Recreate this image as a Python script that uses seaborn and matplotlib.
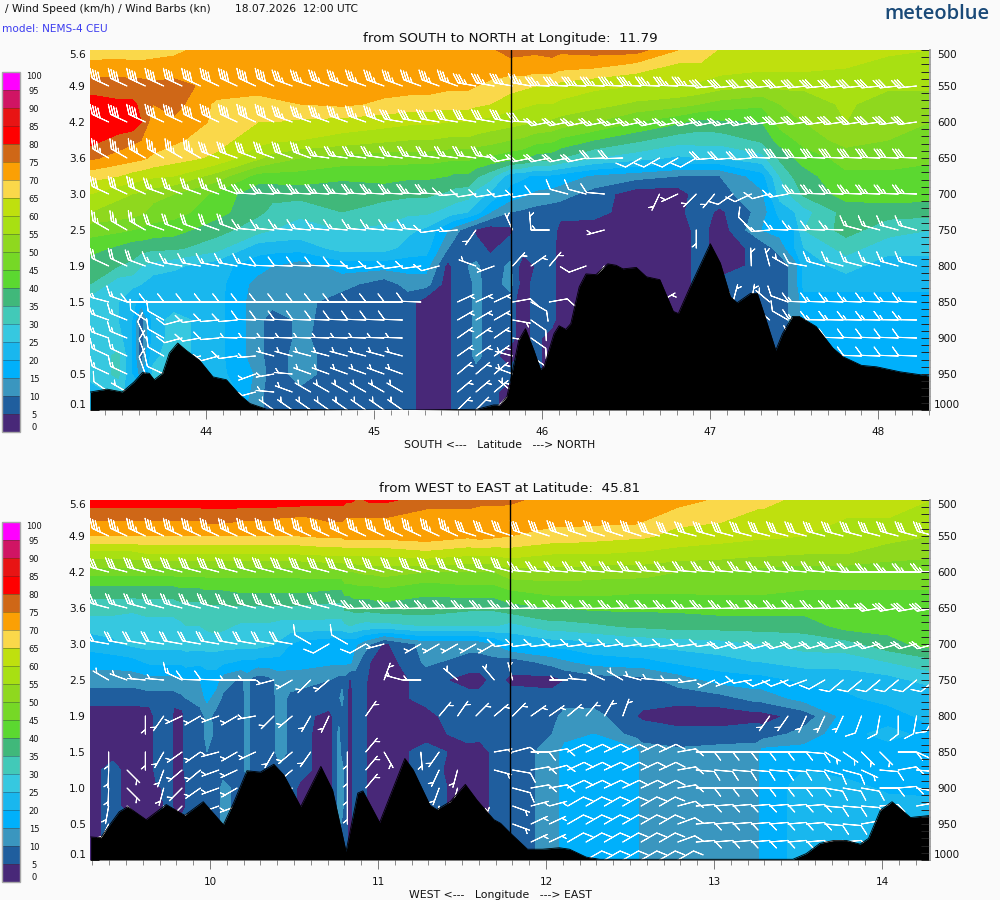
import numpy as np
import matplotlib
matplotlib.use("Agg")
import matplotlib.pyplot as plt
from matplotlib.ticker import MultipleLocator
import seaborn as sns

# ---- common axes / legend values
wind_levels = list(range(0, 105, 5))
wind_colors = ["#482878", "#1f5e9e", "#3a96bf", "#00b0fb", "#19b7ee", "#36c8e0", "#42c9b8",
               "#40b87a", "#5bd830", "#76d826", "#8fd81e", "#a8e012", "#bfe00e", "#fad84a",
               "#fba004", "#cf6717", "#ff0000", "#e81414", "#d01464", "#ff00ff"]
pressure_rows = list(range(500, 1025, 25))
pressure_ticks = list(range(500, 1050, 50))
height_labels = ["5.6", "4.9", "4.2", "3.6", "3.0", "2.5", "1.9", "1.5", "1.0", "0.5", "0.1"]
barb_rows = [550, 600, 650, 700, 750, 800, 850, 875, 900, 925, 950, 975, 1000]

# ---- upper panel: wind speed (km/h) per pressure row
top_lat = list(np.round(np.arange(21) * 0.25 + 43.308, 3))
top_500 = [67,67,69,72,72,72,72,72,72,74,77,77,77,77,70,64,62,62,61,61,60]
top_525 = [72,72,72,72,72,72,72,72,72,72,72,72,70,67,63,62,61,61,60,58,58]
top_550 = [78,77,77,73,72,72,72,72,72,71,67,65,61,60,60,57,55,56,56,56,56]
top_575 = [82,81,77,69,68,70,71,69,68,67,62,60,57,54,52,48,46,52,56,52,52]
top_600 = [84,84,74,69,65,64,63,62,61,60,57,54,50,45,41,39,40,50,55,52,50]
top_625 = [82,76,71,67,62,60,58,56,55,54,50,46,40,36,32,32,36,47,52,50,48]
top_650 = [76,72,67,64,56,50,48,47,47,46,42,37,30,27,24,25,28,42,47,47,46]
top_675 = [67,63,60,53,43,43,41,42,41,39,22,19,14,12,10,10,18,38,44,44,43]
top_700 = [60,55,50,44,36,37,37,37,36,32,18,13,8,2,2,8,14,36,42,43,42]
top_725 = [55,52,47,42,36,31,35,32,31,25,10,7,7,2,4,4,12,28,37,37,37]
top_750 = [47,45,42,37,32,28,30,29,24,7,4,8,2,2,2,2,15,30,37,32,30]
top_775 = [42,37,36,32,22,22,27,27,22,7,7,7,2,2,2,2,7,25,32,27,27]
top_800 = [37,34,26,22,17,12,17,17,17,10,11,7,2,2,2,2,7,22,27,22,22]
top_825 = [35,26,22,22,13,12,12,7,12,7,12,7,2,2,2,7,7,22,22,22,22]
top_850 = [27,22,22,22,12,12,7,7,2,7,7,7,2,2,2,7,7,17,17,17,17]
top_875 = [27,20,27,22,12,11,8,7,2,7,7,7,2,2,2,7,7,17,17,17,17]
top_900 = [25,20,27,22,12,11,7,7,2,7,7,2,2,2,2,7,7,17,17,17,17]
top_925 = [27,20,27,22,12,12,7,7,2,7,2,2,2,2,2,7,7,17,17,17,17]
top_950 = [27,20,27,22,14,12,7,7,2,7,7,2,2,2,2,7,7,17,17,17,17]
top_975 = [22,22,27,27,12,9,7,7,2,7,2,2,2,2,2,2,2,17,17,17,17]
top_1000 = [22,27,27,22,12,7,7,7,2,7,2,2,2,2,2,2,2,17,17,17,17]
# extra upper-panel columns for narrow features: (latitude, speeds top to bottom)
top_c43475 = (43.475, [67,73,77,81,84,78,73,65,56,53,46,39,35,27,25,25,27,31,31,27,27])
top_c43612 = (43.612, [67,72,77,79,80,75,71,62,54,51,44,37,30,25,17,7,7,7,12,22,27])
top_c43683 = (43.683, [68,72,76,75,72,73,69,61,52,48,43,36,28,22,22,22,22,24,26,27,27])
top_c44391 = (44.391, [72,72,72,69,65,61,53,43,36,34,30,22,15,13,12,7,7,7,7,7,7])
top_c45201 = (45.201, [72,72,72,68,61,55,47,41,36,31,26,23,17,12,7,7,7,7,7,7,7])
top_c45439 = (45.439, [72,72,71,67,60,54,46,40,34,28,15,10,3,2,2,2,2,2,2,2,2])
top_c45475 = (45.475, [72,72,71,67,60,54,46,39,33,27,12,8,7,7,7,7,7,7,7,7,7])
top_c45606 = (45.606, [73,72,70,66,59,53,45,36,28,22,4,7,11,12,12,12,12,12,7,7,7])
top_c45689 = (45.689, [74,72,69,65,58,52,44,32,24,15,2,4,7,7,7,7,7,7,7,7,7])
top_c45885 = (45.885, [76,73,66,61,56,49,41,21,16,9,7,7,2,2,2,2,2,7,7,7,7])
top_c45957 = (45.957, [76,72,65,60,55,47,38,19,14,8,7,7,5,7,7,7,7,7,7,7,7])
top_c46106 = (46.106, [76,71,63,59,53,44,35,18,12,7,3,2,2,2,2,2,2,2,2,2,2])
top_c46939 = (46.939, [70,63,59,50,38,32,25,10,8,7,7,7,7,7,7,7,7,7,7,7,7])
top_c47415 = (47.415, [62,61,56,50,47,42,36,30,27,22,17,12,7,7,7,7,7,7,7,7,7])
top_c47504 = (47.504, [62,61,56,52,49,45,40,36,32,25,20,20,12,12,12,12,12,17,17,17,17])

# ---- lower panel: wind speed (km/h) per pressure row
bot_lon = list(np.round(np.arange(21) * 0.25 + 9.286, 3))
bot_500 = [83,83,83,83,83,83,82,81,78,77,76,73,72,72,72,69,67,63,62,62,60]
bot_525 = [76,76,76,77,76,74,76,75,72,73,72,72,72,72,67,66,63,62,60,60,58]
bot_550 = [70,70,70,70,70,70,71,72,73,71,70,68,67,66,63,62,61,60,60,57,55]
bot_575 = [58,58,60,60,60,60,61,61,63,61,62,60,60,59,58,57,56,55,55,52,51]
bot_600 = [47,47,47,47,47,47,48,52,50,50,53,53,52,52,50,50,48,47,47,47,47]
bot_625 = [38,38,38,40,41,41,40,44,41,43,45,47,47,46,46,46,46,45,45,45,45]
bot_650 = [32,31,32,34,34,34,33,38,38,36,38,40,41,41,41,42,42,42,42,43,43]
bot_675 = [27,27,28,32,29,28,28,28,30,30,28,33,34,36,37,37,37,37,42,42,42]
bot_700 = [22,26,27,27,27,18,16,4,12,12,20,22,24,26,27,28,30,32,33,38,42]
bot_725 = [17,18,21,22,18,17,16,2,11,8,7,12,17,18,21,23,25,27,27,30,33]
bot_750 = [12,12,13,17,7,12,8,2,7,3,4,3,7,8,12,17,18,21,22,23,27]
bot_775 = [7,7,8,13,7,8,12,2,7,7,7,7,7,7,7,8,12,17,19,22,21]
bot_800 = [2,2,2,8,7,7,7,2,3,10,7,8,12,5,2,2,3,7,17,17,22]
bot_825 = [2,2,2,9,7,7,5,2,3,7,7,10,15,8,7,7,7,12,18,22,18]
bot_850 = [2,3,2,8,7,7,7,2,7,3,7,12,17,17,11,12,17,17,17,17,17]
bot_875 = [3,2,2,7,7,7,13,2,7,2,7,12,17,17,12,12,17,20,18,18,17]
bot_900 = [3,2,3,7,7,4,12,2,7,3,7,12,17,17,12,12,17,22,22,19,18]
bot_925 = [3,2,3,7,7,4,12,2,7,3,7,12,17,17,12,12,17,22,22,22,22]
bot_950 = [3,7,7,7,7,7,9,2,7,7,7,12,17,17,12,12,17,22,22,22,22]
bot_975 = [3,7,7,7,7,7,7,7,7,7,7,12,17,17,12,12,17,22,22,22,22]
bot_1000 = [3,7,7,7,7,7,7,7,7,7,7,12,17,17,12,12,17,22,22,22,22]
# extra lower-panel columns for narrow features: (longitude, speeds top to bottom)
bot_c09423 = (9.423, [83,76,70,58,47,38,32,27,24,17,12,7,2,2,3,7,7,7,7,7,7])
bot_c09643 = (9.643, [83,76,70,60,47,38,32,28,27,21,13,8,2,2,2,2,2,3,3,7,7])
bot_c09679 = (9.679, [83,76,70,60,47,38,32,28,27,21,13,8,7,7,7,7,4,3,7,7,7])
bot_c09771 = (9.771, [83,76,70,60,47,38,32,28,27,21,13,8,7,7,7,7,7,7,7,7,7])
bot_c09834 = (9.834, [83,76,70,60,47,39,33,29,27,21,14,9,3,3,3,3,3,3,7,7,7])
bot_c09857 = (9.857, [83,76,70,60,47,39,33,30,27,22,15,10,7,7,7,7,5,5,7,7,7])
bot_c09941 = (9.941, [83,76,70,60,47,39,33,30,27,21,15,13,7,7,7,7,7,7,7,7,7])
bot_c09982 = (9.982, [83,77,70,60,47,40,34,31,27,22,17,16,12,12,10,7,7,7,7,7,7])
bot_c10078 = (10.078, [83,77,70,60,47,40,34,31,27,21,12,9,7,7,7,7,12,12,12,7,7])
bot_c10185 = (10.185, [83,76,70,60,47,41,34,29,27,19,9,7,7,7,7,7,7,7,7,7,7])
bot_c10221 = (10.221, [83,76,70,60,47,41,34,29,27,19,12,12,12,12,12,12,7,7,7,7,7])
bot_c10256 = (10.256, [83,76,70,60,47,41,34,29,27,19,8,7,7,7,7,7,7,7,7,7,7])
bot_c10346 = (10.346, [83,76,70,60,47,41,34,29,26,18,8,7,7,7,7,7,7,7,7,7,7])
bot_c10417 = (10.417, [83,75,70,60,47,41,34,28,24,18,12,12,12,12,12,9,7,7,7,7,7])
bot_c10476 = (10.476, [83,75,70,60,47,41,34,28,20,17,12,9,9,9,9,7,7,7,7,7,7])
bot_c10709 = (10.709, [82,76,71,61,48,40,33,28,16,16,10,9,3,2,2,2,2,2,2,2,2])
bot_c10744 = (10.744, [82,76,71,61,48,40,33,28,16,16,9,9,7,7,7,7,7,7,7,7,7])
bot_c10768 = (10.768, [82,76,71,61,48,40,33,28,16,16,8,9,7,12,12,12,12,12,12,7,7])
bot_c10804 = (10.804, [81,75,72,61,50,42,36,29,16,16,8,7,7,7,7,7,7,7,7,7,7])
bot_c10834 = (10.834, [81,75,72,61,50,42,36,30,16,16,4,2,3,2,2,2,2,2,2,2,2])
bot_c10863 = (10.863, [80,75,72,61,50,43,37,29,16,12,8,7,7,7,7,7,7,7,7,7,7])
bot_c10917 = (10.917, [80,75,72,61,51,43,37,28,12,8,7,7,7,7,7,7,7,7,7,7,7])
bot_c10953 = (10.953, [81,75,72,61,51,43,37,28,10,5,3,2,2,2,2,2,2,2,2,2,2])
bot_c11607 = (11.607, [76,73,72,61,50,43,36,30,12,8,3,7,7,7,2,2,2,2,2,7,7])
bot_c11697 = (11.697, [76,73,71,61,50,43,36,30,15,8,7,7,7,7,7,7,7,7,7,7,7])
bot_c12113 = (12.113, [73,72,68,60,53,47,40,33,22,14,5,7,12,13,17,17,17,17,17,17,17])
bot_c12572 = (12.572, [72,71,66,59,52,46,41,36,26,18,8,7,4,8,12,12,12,12,12,12,12])
bot_c13256 = (13.256, [67,63,61,56,48,46,42,37,30,25,18,12,3,8,12,12,12,12,12,12,12])

# ---- terrain (surface pressure, hPa)
top_ground_lat = [43.31,43.41,43.50,43.57,43.62,43.66,43.69,43.74,43.78,43.83,43.88,43.96,44.04,44.12,44.20,44.26,44.36,45.00,45.25,45.61,45.71,
                  45.75,45.79,45.82,45.86,45.90,45.95,45.99,46.01,46.07,46.10,46.14,46.17,46.22,46.26,46.32,46.39,46.44,46.48,46.56,46.62,46.70,
                  46.78,46.81,46.88,47.00,47.06,47.12,47.16,47.24,47.28,47.32,47.39,47.43,47.49,47.53,47.63,47.73,47.79,47.90,47.99,48.13,48.31]
top_ground_p = [975,971,975,961,948,949,958,949,921,907,917,931,954,958,979,991,999,1000,1000,999,993,
                993,981,949,903,887,917,944,940,894,883,888,880,829,811,812,797,799,804,802,815,819,
                863,866,829,769,796,843,851,838,838,866,917,894,870,870,884,914,926,938,940,947,953]
bot_ground_lon = [9.29,9.35,9.41,9.46,9.51,9.62,9.74,9.85,9.96,10.02,10.08,10.14,10.22,10.30,10.38,10.44,10.54,10.66,10.73,10.81,10.88,10.91,11.01,
                  11.16,11.21,11.31,11.35,11.43,11.52,11.59,11.69,11.73,11.79,11.89,11.98,12.08,12.14,12.24,12.32,13.47,13.55,13.63,13.71,13.79,
                  13.87,13.92,13.99,14.06,14.17,14.29]
bot_ground_p = [968,969,949,933,926,944,923,938,919,935,951,921,876,878,867,882,926,870,903,988,907,904,948,
                859,875,924,930,919,895,917,944,949,963,985,985,983,985,996,999,999,991,977,973,973,
                978,970,931,919,941,938]

# ---- wind barbs, as runs of (count, direction deg, speed kn); None = no barb
N = None
top_barb_lat0, top_barb_dlat, top_barb_n = 43.419, 0.1093, 45
t550 = [(10,295,40),(10,290,35),(4,280,35),(9,272,35),(12,264,30)]
t600 = [(10,295,40),(6,290,35),(7,280,30),(1,272,30),(12,258,25),(9,262,30)]
t650 = [(6,300,35),(6,290,30),(10,278,25),(5,258,20),(2,268,20),(4,240,10),(3,265,20),(9,272,28)]
t700 = [(3,295,30),(5,290,25),(11,273,25),(1,265,15),(3,261,12),(1,260,10),(1,270,10),(2,285,10),(1,275,10),(2,N,N),(1,205,5),(1,245,5),(1,225,5),(1,220,5),(1,235,8),(1,245,8),(1,255,10),(1,260,15),(7,272,25)]
t750 = [(3,300,25),(5,290,20),(10,275,15),(1,262,10),(1,265,5),(1,215,5),(1,N,N),(1,335,5),(1,355,5),(1,270,5),(2,N,N),(1,255,5),(4,N,N),(1,180,5),(2,N,N),(1,315,12),(1,265,15),(4,272,15),(4,285,15)]
t800 = [(2,295,20),(1,290,20),(1,285,15),(5,280,15),(5,272,12),(4,262,10),(1,255,8),(1,N,N),(1,290,5),(1,250,5),(1,42,5),(1,55,5),(1,40,5),(1,N,N),(1,250,8),(1,215,5),(7,N,N),(1,358,5),(1,345,5),(1,300,5),(1,280,10),(6,285,15)]
t850 = [(1,285,15),(1,290,15),(15,270,10),(1,272,10),(1,N,N),(3,65,5),(1,80,10),(1,120,10),(1,80,10),(5,N,N),(1,60,5),(2,N,N),(1,45,5),(1,15,5),(1,10,5),(1,310,5),(1,290,10),(7,272,15)]
t875 = [(1,290,15),(1,292,15),(1,305,10),(1,300,10),(1,255,10),(1,262,10),(2,265,10),(9,272,8),(2,N,N),(3,60,5),(1,100,5),(1,125,10),(11,N,N),(1,15,5),(1,310,5),(1,300,10),(1,275,15),(6,271,15)]
t900 = [(1,290,15),(1,292,15),(1,335,10),(1,300,10),(1,255,10),(1,260,10),(1,265,10),(10,272,5),(2,N,N),(3,55,5),(1,100,5),(1,125,10),(11,N,N),(1,25,5),(1,320,5),(1,N,N),(1,280,15),(6,272,12)]
t925 = [(2,295,15),(1,340,10),(1,300,10),(1,N,N),(2,255,10),(1,262,8),(1,265,5),(8,285,5),(2,N,N),(3,55,5),(1,285,5),(1,125,10),(16,N,N),(1,280,10),(4,272,10)]
t950 = [(2,295,15),(1,340,10),(1,295,10),(4,N,N),(1,250,5),(1,260,5),(1,275,5),(6,290,5),(2,N,N),(3,50,5),(1,290,5),(22,N,N)]
t975 = [(1,305,10),(1,300,5),(6,N,N),(1,255,5),(1,275,5),(1,290,5),(6,300,5),(2,N,N),(3,50,5),(1,310,5),(22,N,N)]
t1000 = [(9,N,N),(8,305,5),(2,N,N),(3,45,5),(23,N,N)]

bot_barb_lon0, bot_barb_dlon, bot_barb_n = 9.397, 0.1093, 46
b550 = [(20,295,35),(10,288,30),(16,285,30)]
b600 = [(23,285,30),(18,275,25),(5,270,25)]
b650 = [(14,285,25),(28,268,25),(4,260,30)]
b700 = [(11,280,20),(1,300,8),(1,240,8),(1,300,8),(1,240,8),(1,255,5),(1,N,N),(5,240,5),(12,262,12),(12,255,20)]
b750 = [(1,300,5),(1,290,5),(2,275,5),(1,295,15),(2,272,10),(1,270,5),(1,270,5),(1,255,5),(1,240,5),(1,225,5),(1,230,5),(2,N,N),(1,20,5),(1,285,5),(1,270,5),(1,N,N),(1,310,5),(1,N,N),(1,320,5),(1,345,5),(2,N,N),(1,270,5),(1,275,5),(1,295,5),(1,300,5),(1,285,5),(1,275,5),(1,270,5),(1,262,5),(1,245,5),(1,250,5),(1,260,8),(3,250,10),(1,240,10),(6,230,10)]
b800 = [(2,N,N),(1,180,5),(1,215,5),(1,245,5),(1,240,5),(1,250,5),(1,240,5),(1,260,5),(1,225,5),(1,230,5),(1,210,5),(1,205,5),(1,N,N),(1,35,5),(3,N,N),(1,40,5),(1,35,5),(1,45,5),(1,50,5),(1,45,5),(2,55,5),(1,50,5),(1,40,5),(1,30,5),(1,20,5),(7,N,N),(2,215,5),(3,205,5),(1,200,10),(1,190,8),(1,180,10),(1,190,10),(1,210,10)]
b850 = [(1,180,5),(1,N,N),(1,180,5),(1,210,5),(2,235,5),(1,255,5),(1,240,5),(1,245,5),(1,210,5),(1,230,5),(1,215,5),(1,N,N),(1,180,5),(1,40,5),(1,150,5),(1,N,N),(1,175,5),(1,215,5),(2,N,N),(1,80,5),(1,75,10),(1,90,10),(1,80,10),(6,65,10),(1,80,10),(6,90,10),(1,95,10),(1,120,5),(1,125,5),(2,135,5),(1,90,10),(1,115,10),(1,N,N)]
b875 = [(1,182,5),(1,135,5),(1,N,N),(1,200,5),(2,230,5),(1,250,5),(1,245,5),(2,N,N),(1,230,5),(2,N,N),(1,180,5),(1,40,5),(3,N,N),(1,205,5),(1,195,5),(1,N,N),(1,105,5),(1,100,10),(1,80,10),(1,75,10),(6,65,10),(1,80,10),(7,95,10),(2,105,10),(1,115,5),(1,95,10),(1,80,10),(1,95,10),(1,90,10)]
b900 = [(1,182,5),(1,135,5),(1,N,N),(1,195,5),(1,225,5),(1,235,5),(1,250,5),(1,240,5),(2,N,N),(1,230,5),(2,N,N),(1,180,5),(1,40,5),(3,N,N),(1,200,5),(1,195,5),(2,N,N),(1,105,10),(2,80,10),(6,65,10),(1,80,10),(7,90,10),(3,100,10),(1,90,10),(1,85,10),(1,100,10),(1,90,10)]
b925 = [(1,190,5),(1,135,5),(1,N,N),(1,190,5),(2,225,5),(2,250,5),(5,N,N),(1,180,5),(4,N,N),(1,190,5),(3,N,N),(1,110,5),(2,75,5),(6,60,10),(1,75,10),(7,85,10),(3,95,10),(1,85,10),(1,N,N),(1,80,10),(1,N,N)]
b950 = [(1,205,5),(20,N,N),(1,330,5),(1,110,5),(2,65,5),(6,60,10),(1,70,10),(7,85,10),(2,95,10),(1,80,10),(4,N,N)]
b975 = [(23,N,N),(2,65,5),(6,60,10),(1,70,10),(9,85,10),(5,N,N)]
b1000 = [(26,N,N),(6,60,10),(14,N,N)]

# ---- texts
header_left = "/ Wind Speed (km/h) / Wind Barbs (kn)"
header_time = "18.07.2026  12:00 UTC"
model_text = "model: NEMS-4 CEU"
logo_text = "meteoblue"
top_title = "from SOUTH to NORTH at Longitude:  11.79"
bot_title = "from WEST to EAST at Latitude:  45.81"
top_xlabel = "SOUTH <---   Latitude   ---> NORTH"
bot_xlabel = "WEST <---   Longitude   ---> EAST"
top_section, bot_section = 45.815, 11.785

BG = "#fafafa"
sns.set_theme(style="white", rc={"figure.facecolor": BG, "axes.facecolor": BG,
                                 "font.family": "DejaVu Sans", "savefig.facecolor": BG})
palette = sns.color_palette(wind_colors)

W, H = 1000, 900
BARB_LEN = 5.1
BARB_SIZES = {"height": 0.45, "spacing": 0.16, "width": 0.7}
fig = plt.figure(figsize=(W / 100, H / 100), dpi=100)


def px_axes(x0, y0, x1, y1):
    return fig.add_axes([x0 / W, 1 - y1 / H, (x1 - x0) / W, (y1 - y0) / H])


def expand(runs, n):
    d = []
    s = []
    for c, a, k in runs:
        d += [np.nan if a is None else a] * c
        s += [np.nan if k is None else k] * c
    assert len(d) == n, len(d)
    return np.array(d, float), np.array(s, float)


def merge_columns(xs, rows, extras):
    x = np.array(list(xs) + [e[0] for e in extras], float)
    z = np.column_stack([np.array(rows, float)] + [np.array(e[1], float) for e in extras])
    order = np.argsort(x)
    return x[order], z[:, order]


def panel(y0, xs, rows, extras, ground_x, ground_p, barbs, bx0, bdx, bn, title, tick_vals, section):
    ax = px_axes(90, y0, 930, y0 + 360)
    x, z = merge_columns(xs, rows, extras)
    cf = ax.contourf(x, pressure_rows, z, levels=wind_levels, colors=palette, zorder=1)
    # barbs
    bx = bx0 + bdx * np.arange(bn)
    for p, runs in zip(barb_rows, barbs):
        d, s = expand(runs, bn)
        ok = ~np.isnan(d)
        u = -s[ok] * np.sin(np.radians(d[ok]))
        v = -s[ok] * np.cos(np.radians(d[ok]))
        ax.barbs(bx[ok], np.full(ok.sum(), p), u, v, length=BARB_LEN, sizes=BARB_SIZES, color="white",
                 linewidth=0.75, zorder=3, pivot="tip", clip_on=True)
    # terrain
    sns.lineplot(x=ground_x, y=ground_p, color="black", linewidth=0.6, ax=ax, zorder=4, sort=False, errorbar=None)
    ax.fill_between(ground_x, ground_p, 1000, color="black", linewidth=0, zorder=4)
    ax.axvline(section, color="black", linewidth=1.0, zorder=5)
    ax.set_xlim(xs[0], xs[-1])
    ax.set_ylim(1000, 500)
    ax.set_xlabel("")
    ax.set_ylabel("")
    ax.set_title(title, fontsize=9.7, color="#111111", pad=5.5)
    for sp in ("top", "left", "bottom"):
        ax.spines[sp].set_visible(False)
    ax.spines["right"].set_color("#a8a8a8")
    ax.spines["right"].set_zorder(6)
    # left ticks
    ax.set_yticks(pressure_ticks)
    ax.set_yticklabels(height_labels)
    ax.yaxis.set_minor_locator(MultipleLocator(10))
    ax.tick_params(axis="y", which="major", direction="in", length=6.5, width=0.7, color="#222222",
                   labelsize=7.7, pad=3, labelcolor="#111111", left=True, zorder=7)
    ax.tick_params(axis="y", which="minor", direction="in", length=6.5, width=0.7, color="#222222", left=True)
    labs = ax.get_yticklabels()
    labs[0].set_va("top")
    labs[-1].set_va("bottom")
    # right axis
    ar = ax.twinx()
    ar.set_ylim(1000, 500)
    ar.set_yticks(pressure_ticks)
    ar.set_yticklabels([str(p) for p in pressure_ticks])
    ar.yaxis.set_minor_locator(MultipleLocator(10))
    ar.tick_params(axis="y", which="major", direction="in", length=6.5, width=0.7, color="#222222",
                   labelsize=7.5, pad=12.5, labelcolor="#111111", right=True)
    ar.tick_params(axis="y", which="minor", direction="in", length=6.5, width=0.7, color="#222222", right=True)
    for sp in ("top", "left", "bottom"):
        ar.spines[sp].set_visible(False)
    ar.spines["right"].set_color("#a8a8a8")
    labs = ar.get_yticklabels()
    for t in labs:
        t.set_ha("center")
    labs[0].set_va("top")
    labs[-1].set_va("bottom")
    # x ticks
    ax.set_xticks(tick_vals)
    ax.set_xticklabels([str(t) for t in tick_vals])
    ax.xaxis.set_minor_locator(MultipleLocator(0.1))
    ax.tick_params(axis="x", which="major", direction="out", length=6.5, width=0.6, color="#666666",
                   labelsize=7.5, pad=5.5, labelcolor="#111111", bottom=True)
    ax.tick_params(axis="x", which="minor", direction="out", length=3.5, width=0.6, color="#777777", bottom=True)
    # legend
    cax = px_axes(2.3, y0 + 22, 20, y0 + 382)
    cb = fig.colorbar(cf, cax=cax, drawedges=True, spacing="uniform")
    cb.set_ticks(wind_levels)
    cb.set_ticklabels([str(v) for v in wind_levels])
    cb.ax.tick_params(length=0, labelsize=6, pad=10, labelcolor="#111111")
    cb.minorticks_off()
    cb.outline.set_edgecolor("#a8a8a8")
    cb.outline.set_linewidth(1)
    cb.dividers.set_color("#33333388")
    cb.dividers.set_linewidth(0.5)
    labs = cb.ax.get_yticklabels()
    for t in labs:
        t.set_ha("center")
    labs[0].set_va("bottom")
    labs[-1].set_va("top")
    return ax


top_rows = [top_500, top_525, top_550, top_575, top_600, top_625, top_650, top_675, top_700, top_725, top_750,
            top_775, top_800, top_825, top_850, top_875, top_900, top_925, top_950, top_975, top_1000]
bot_rows = [bot_500, bot_525, bot_550, bot_575, bot_600, bot_625, bot_650, bot_675, bot_700, bot_725, bot_750,
            bot_775, bot_800, bot_825, bot_850, bot_875, bot_900, bot_925, bot_950, bot_975, bot_1000]
top_extras = [top_c43475, top_c43612, top_c43683, top_c44391, top_c45201, top_c45439, top_c45475, top_c45606,
              top_c45689, top_c45885, top_c45957, top_c46106, top_c46939, top_c47415, top_c47504]
bot_extras = [bot_c09423, bot_c09643, bot_c09679, bot_c09771, bot_c09834, bot_c09857, bot_c09941, bot_c09982,
              bot_c10078, bot_c10185, bot_c10221, bot_c10256, bot_c10346, bot_c10417, bot_c10476, bot_c10709,
              bot_c10744, bot_c10768, bot_c10804, bot_c10834, bot_c10863, bot_c10917, bot_c10953, bot_c11607,
              bot_c11697, bot_c12113, bot_c12572, bot_c13256]

panel(50, top_lat, top_rows, top_extras, top_ground_lat, top_ground_p,
      [t550, t600, t650, t700, t750, t800, t850, t875, t900, t925, t950, t975, t1000],
      top_barb_lat0, top_barb_dlat, top_barb_n, top_title, [44, 45, 46, 47, 48], top_section)
panel(500, bot_lon, bot_rows, bot_extras, bot_ground_lon, bot_ground_p,
      [b550, b600, b650, b700, b750, b800, b850, b875, b900, b925, b950, b975, b1000],
      bot_barb_lon0, bot_barb_dlon, bot_barb_n, bot_title, [10, 11, 12, 13, 14], bot_section)


def ftext(x, y, s, **kw):
    fig.text(x / W, 1 - y / H, s, va="center", **kw)


ftext(5, 9, header_left, fontsize=7.7, color="#111111")
ftext(235, 9, header_time, fontsize=7.7, color="#111111")
ftext(2, 29, model_text, fontsize=7.6, color="#3c3cf0")
ftext(884, 14, logo_text, fontsize=14.5, color="#1a4a78", family="Open Sans", weight="semibold")
ftext(500, 445, top_xlabel, fontsize=7.8, color="#111111", ha="center")
ftext(500, 895, bot_xlabel, fontsize=7.8, color="#111111", ha="center")

fig.savefig("out.png", dpi=100)
